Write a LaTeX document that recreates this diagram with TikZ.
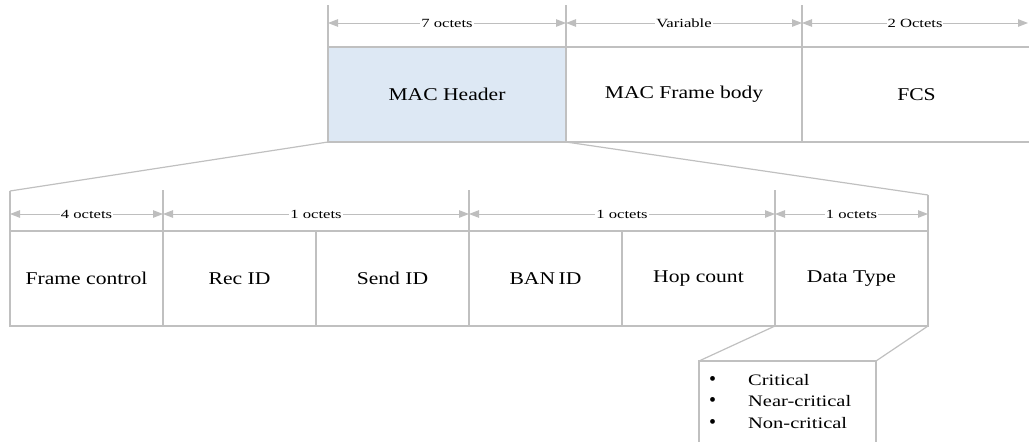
\documentclass[tikz,border=0pt]{standalone}
\usepackage{fontspec}
\setmainfont{Liberation Serif}
\usetikzlibrary{arrows.meta}
\definecolor{lgray}{RGB}{192,192,192}
\definecolor{agray}{RGB}{190,190,190}
\definecolor{hdrblue}{RGB}{221,232,244}
\newcommand{\wideM}[1]{\scalebox{1.2}[1]{#1}}
\newcommand{\wideS}[1]{\scalebox{1.33}[1]{#1}}
\newcommand{\wideB}[1]{\scalebox{1.28}[1]{#1}}
\tikzset{
  fbox/.style={draw=lgray, line width=1.2pt, rectangle, inner sep=0pt, outer sep=0pt,
    font=\fontsize{18}{20}\selectfont, text=black},
  tick/.style={draw=lgray, line width=1.2pt},
  dim/.style={draw=agray, line width=1pt, {Triangle[length=10pt,width=7.5pt,fill=agray]}-{Triangle[length=10pt,width=7.5pt,fill=agray]}},
  lbl/.style={fill=white, inner sep=1pt, font=\fontsize{12.5}{14}\selectfont, text=black},
  zoomline/.style={draw=lgray, line width=1.2pt}
}
\begin{document}
\begin{tikzpicture}[x=1pt,y=-1pt]
\useasboundingbox (0,0) rectangle (1029,442);
% top row
\node[fbox, fill=hdrblue, minimum width=238, minimum height=95] (mac) at (447,94.5) {\wideM{MAC Header}};
\node[fbox, minimum width=236, minimum height=95] (body) at (684,94.5) {\wideM{MAC Frame body}};
\node[fbox, minimum width=229, minimum height=95] (fcs) at (916.5,94.5) {\wideM{FCS}};
\coordinate (t1) at (328,5);
\coordinate (t2) at (566,5);
\coordinate (t3) at (802,5);
\coordinate (d1) at (328,23);
\coordinate (d2) at (566,23);
\coordinate (d3) at (802,23);
\coordinate (d4) at (1028,23);
\draw[tick] (t1) -- (mac.north west);
\draw[tick] (t2) -- (mac.north east);
\draw[tick] (t3) -- (body.north east);
\draw[dim] (d1) -- node[lbl]{\wideS{7 octets}} (d2);
\draw[dim] (d2) -- node[lbl]{\wideS{Variable}} (d3);
\draw[dim] (d3) -- node[lbl]{\wideS{2 Octets}} (d4);
% bottom row
\node[fbox, minimum width=153, minimum height=95] (fc) at (86.5,278.5) {\wideM{Frame control}};
\node[fbox, minimum width=153, minimum height=95] (rec) at (239.5,278.5) {\wideM{Rec ID}};
\node[fbox, minimum width=153, minimum height=95] (send) at (392.5,278.5) {\wideM{Send ID}};
\node[fbox, minimum width=153, minimum height=95] (ban) at (545.5,278.5) {\wideM{BAN\,ID}};
\node[fbox, minimum width=153, minimum height=95] (hop) at (698.5,278.5) {\wideM{Hop count}};
\node[fbox, minimum width=153, minimum height=95] (dt) at (851.5,278.5) {\wideM{Data Type}};
\coordinate (b1) at (10,191);
\coordinate (b2) at (163,190);
\coordinate (b3) at (469,190);
\coordinate (b4) at (775,190);
\coordinate (b5) at (928,195);
\coordinate (e1) at (10,214);
\coordinate (e2) at (163,214);
\coordinate (e3) at (469,214);
\coordinate (e4) at (775,214);
\coordinate (e5) at (928,214);
\draw[zoomline] (mac.south west) -- (b1);
\draw[zoomline] (mac.south east) -- (b5);
\draw[tick] (b1) -- (fc.north west);
\draw[tick] (b2) -- (fc.north east);
\draw[tick] (b3) -- (send.north east);
\draw[tick] (b4) -- (hop.north east);
\draw[tick] (b5) -- (dt.north east);
\draw[dim] (e1) -- node[lbl]{\wideS{4 octets}} (e2);
\draw[dim] (e2) -- node[lbl]{\wideS{1 octets}} (e3);
\draw[dim] (e3) -- node[lbl]{\wideS{1 octets}} (e4);
\draw[dim] (e4) -- node[lbl]{\wideS{1 octets}} (e5);
% bullet box
\node[fbox, minimum width=177, minimum height=86, anchor=north west] (types) at (699,361) {};
\draw[zoomline] (dt.south west) -- (types.north west);
\draw[zoomline] (dt.south east) -- (types.north east);
\node[anchor=north west, inner sep=0pt, font=\fontsize{16}{21.5}\selectfont] (list) at (709,370)
  {\begin{tabular}{@{}l@{\hspace{32pt}}l@{}}{\fontsize{20}{20}\selectfont •} & \wideB{Critical}\\ {\fontsize{20}{20}\selectfont •} & \wideB{Near-critical}\\ {\fontsize{20}{20}\selectfont •} & \wideB{Non-critical}\end{tabular}};
\end{tikzpicture}
\end{document}
